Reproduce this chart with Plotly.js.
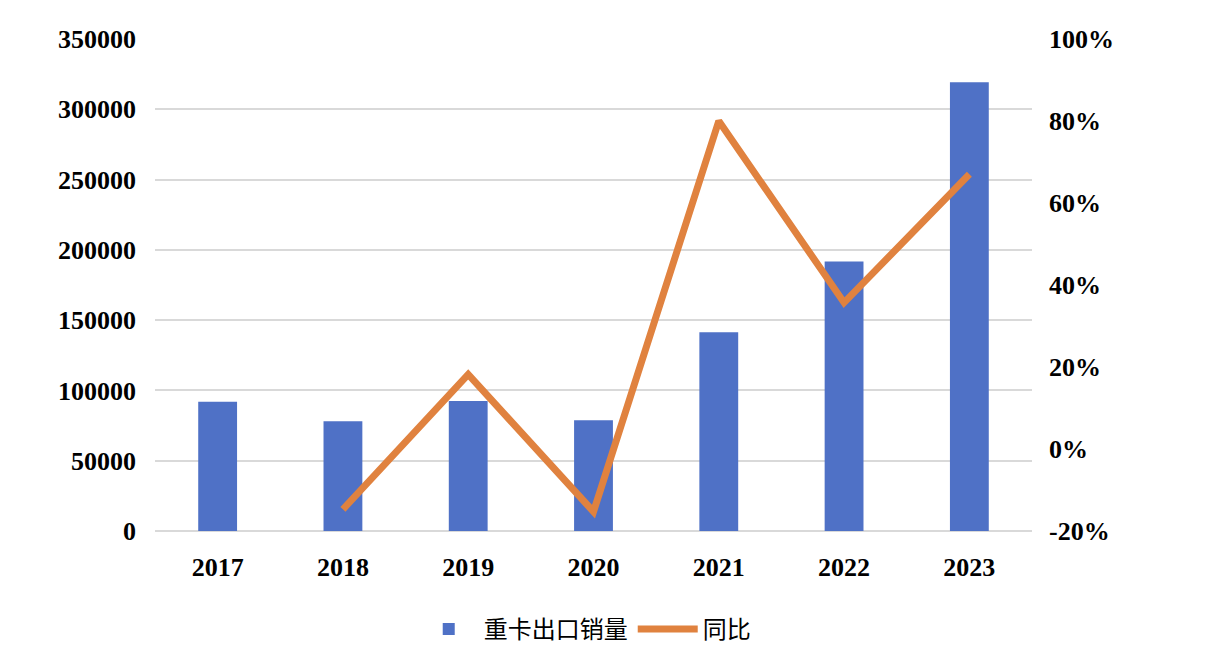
<!DOCTYPE html>
<html lang="zh">
<head>
    <meta charset="UTF-8">
    <title>重卡出口销量</title>
    <script src="https://cdn.plot.ly/plotly-3.0.1.min.js"></script>
    <style>
        html, body { margin: 0; padding: 0; background: #fff; }
        #chart { width: 1224px; height: 664px; }
    </style>
</head>
<body>
<div id="chart"></div>
<script>
    // Data
    var years = ['2017', '2018', '2019', '2020', '2021', '2022', '2023'];
    var exportSales = [92000, 78000, 92500, 78700, 141300, 191800, 319300];
    var yoyYears = ['2018', '2019', '2020', '2021', '2022', '2023'];
    var yoyPct = [-14.7, 18.2, -15.3, 80.0, 35.7, 67.0];
    var pctTicks = [-20, 0, 20, 40, 60, 80, 100];

    var tickFont = { family: '"Liberation Serif", "Times New Roman", serif', size: 26, color: '#000', weight: 'bold' };

    var bars = {
        type: 'bar',
        name: '重卡出口销量',
        x: years,
        y: exportSales,
        marker: { color: '#4f71c6' },
        hoverinfo: 'x+y'
    };

    var line = {
        type: 'scatter',
        mode: 'lines',
        name: '同比',
        x: yoyYears,
        y: yoyPct,
        yaxis: 'y2',
        line: { color: '#e0823f', width: 7 },
        hoverinfo: 'x+y'
    };

    var layout = {
        width: 1224,
        height: 664,
        margin: { l: 155, r: 192, t: 39, b: 133 },
        paper_bgcolor: '#fff',
        plot_bgcolor: '#fff',
        bargap: 0.69,
        showlegend: true,
        legend: {
            orientation: 'h',
            x: 0.49, xanchor: 'center',
            y: -0.2, yanchor: 'middle',
            font: { family: '"Noto Sans CJK SC", sans-serif', size: 24, color: '#000' },
            itemwidth: 60
        },
        xaxis: {
            type: 'category',
            tickfont: tickFont,
            showgrid: false,
            showline: false,
            ticks: '',
            ticklabelstandoff: 18
        },
        yaxis: {
            range: [0, 350000],
            dtick: 50000,
            tickfont: tickFont,
            gridcolor: '#d9d9d9',
            gridwidth: 2,
            zeroline: true,
            zerolinecolor: '#d9d9d9',
            zerolinewidth: 2,
            showline: false,
            ticks: '',
            ticklabelstandoff: 18,
            tickformat: 'd'
        },
        yaxis2: {
            overlaying: 'y',
            side: 'right',
            range: [-20, 100],
            tickmode: 'array',
            tickvals: pctTicks,
            ticktext: pctTicks.map(function (v) { return v + '%'; }),
            tickfont: tickFont,
            showgrid: false,
            zeroline: false,
            showline: false,
            ticks: '',
            ticklabelstandoff: 16
        }
    };

    Plotly.newPlot('chart', [bars, line], layout, { displayModeBar: false, staticPlot: true });
</script>
</body>
</html>
